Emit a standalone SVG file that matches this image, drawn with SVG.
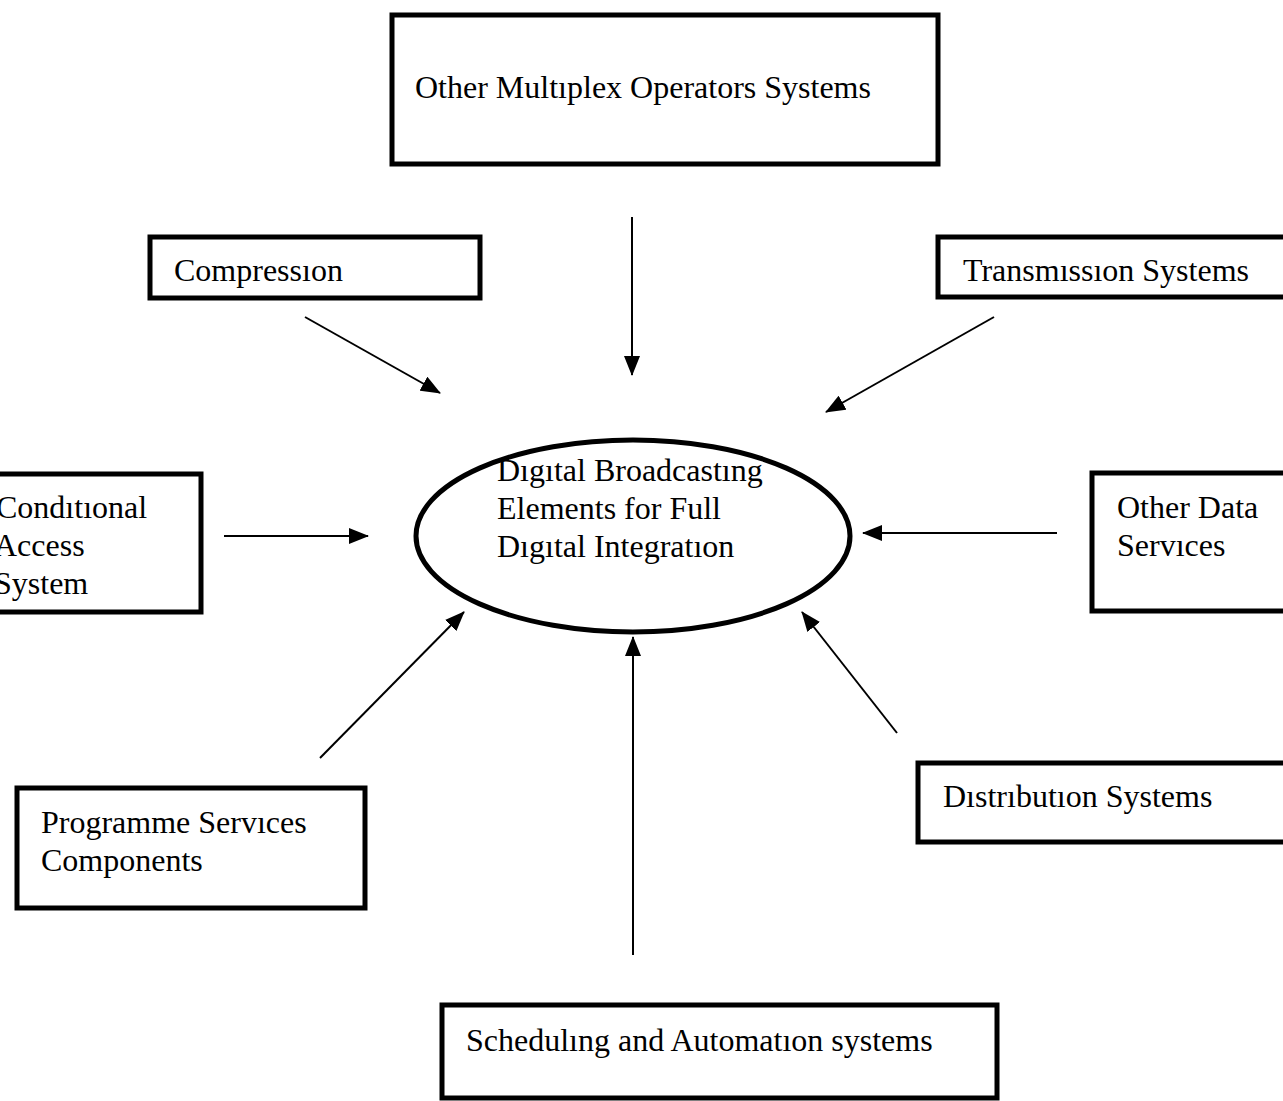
<svg xmlns="http://www.w3.org/2000/svg" width="1283" height="1101" viewBox="0 0 1283 1101">
<style>
.box{fill:#fff;stroke:#000;stroke-width:5}
.t{font-family:"Liberation Serif","Times New Roman",serif;font-size:32px;fill:#000}
.c{stroke:#000;stroke-width:2;fill:none;marker-end:url(#ah)}
</style>
<defs>
<marker id="ah" viewBox="0 0 20 16" refX="19" refY="8" markerWidth="20" markerHeight="16" markerUnits="userSpaceOnUse" orient="auto">
<path d="M0,0 L20,8 L0,16 Z" fill="#000"/>
</marker>
</defs>
<rect width="1283" height="1101" fill="#fff"/>
<g id="other-multiplex"><rect class="box" x="392" y="15" width="546" height="149"/><text class="t" x="415" y="98">Other Multıplex Operators Systems</text></g>
<g id="compression"><rect class="box" x="150" y="237" width="330" height="61"/><text class="t" x="174" y="281">Compressıon</text></g>
<g id="transmission"><rect class="box" x="938" y="237" width="360" height="60"/><text class="t" x="963" y="281">Transmıssıon Systems</text></g>
<g id="center"><ellipse cx="633" cy="536" rx="217" ry="96" fill="#fff" stroke="#000" stroke-width="5"/><text class="t" x="497" y="481">Dıgıtal Broadcastıng</text><text class="t" x="497" y="519">Elements for Full</text><text class="t" x="497" y="557">Dıgıtal Integratıon</text></g>
<g id="conditional-access"><rect class="box" x="-20" y="474" width="221" height="138"/><text class="t" x="-4" y="518">Condıtıonal</text><text class="t" x="-6" y="556">Access</text><text class="t" x="-6" y="594">System</text></g>
<g id="other-data"><rect class="box" x="1092" y="473" width="210" height="138"/><text class="t" x="1117" y="518">Other Data</text><text class="t" x="1117" y="556">Servıces</text></g>
<g id="programme"><rect class="box" x="17" y="788" width="348" height="120"/><text class="t" x="41" y="833">Programme Servıces</text><text class="t" x="41" y="871">Components</text></g>
<g id="distribution"><rect class="box" x="918" y="763" width="380" height="79"/><text class="t" x="943" y="807">Dıstrıbutıon Systems</text></g>
<g id="scheduling"><rect class="box" x="442" y="1005" width="555" height="93"/><text class="t" x="466" y="1051">Schedulıng and Automatıon systems</text></g>
<g id="connectors">
<line class="c" x1="632" y1="217" x2="632" y2="375"/>
<line class="c" x1="305" y1="317" x2="440" y2="393"/>
<line class="c" x1="994" y1="317" x2="826" y2="412"/>
<line class="c" x1="224" y1="536" x2="368" y2="536"/>
<line class="c" x1="1057" y1="533" x2="863" y2="533"/>
<line class="c" x1="320" y1="758" x2="464" y2="612"/>
<line class="c" x1="633" y1="955" x2="633" y2="637"/>
<line class="c" x1="897" y1="733" x2="802" y2="612"/>
</g>
</svg>
